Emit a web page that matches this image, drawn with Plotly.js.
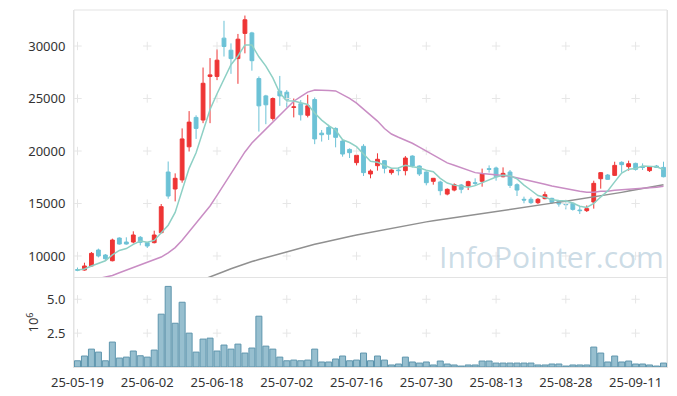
<!DOCTYPE html>
<html><head><meta charset="utf-8">
<script src="https://cdn.plot.ly/plotly-3.0.1.min.js"></script>
<style>html,body{margin:0;padding:0;background:#fff}#chart{width:677px;height:396px}</style>
</head><body><div id="chart"></div>
<script>
const dates = ['25-05-19','25-05-20','25-05-21','25-05-22','25-05-23','25-05-26','25-05-27','25-05-28','25-05-29','25-05-30',
 '25-06-02','25-06-04','25-06-05','25-06-09','25-06-10','25-06-11','25-06-12','25-06-13','25-06-16','25-06-17',
 '25-06-18','25-06-19','25-06-20','25-06-23','25-06-24','25-06-25','25-06-26','25-06-27','25-06-30','25-07-01',
 '25-07-02','25-07-03','25-07-04','25-07-07','25-07-08','25-07-09','25-07-10','25-07-11','25-07-14','25-07-15',
 '25-07-16','25-07-17','25-07-18','25-07-21','25-07-22','25-07-23','25-07-24','25-07-25','25-07-28','25-07-29',
 '25-07-30','25-07-31','25-08-01','25-08-04','25-08-05','25-08-06','25-08-07','25-08-08','25-08-11','25-08-12',
 '25-08-13','25-08-14','25-08-18','25-08-19','25-08-20','25-08-21','25-08-22','25-08-25','25-08-26','25-08-27',
 '25-08-28','25-08-29','25-09-01','25-09-02','25-09-03','25-09-04','25-09-05','25-09-08','25-09-09','25-09-10',
 '25-09-11','25-09-12','25-09-15','25-09-16','25-09-17'];
const openP = [8700,8660,9050,10570,10090,9550,11710,11330,11330,11780,
 11270,11270,12220,18000,16380,17240,20400,23200,22950,27100,
 27100,30750,29600,28800,31200,31250,26900,25250,23100,25700,
 25600,24150,24500,23400,24900,21700,22250,22150,20950,20150,
 18890,20450,17810,18600,19080,17940,18190,18130,19520,18570,
 18000,17110,17050,15900,16280,16760,16670,16980,17110,18320,
 18380,17550,18000,16790,15400,15400,15080,15460,15490,15200,
 14950,15020,14380,14320,15140,17360,17710,17680,18920,18510,
 18820,18510,18130,18570,18440];
const highP = [8900,9360,10380,10700,10190,11650,11780,11780,12350,11900,
 11330,12410,14950,19000,17870,22150,23800,23400,27950,28850,
 29700,32400,30250,31150,32900,31350,27100,25350,25100,27150,
 25800,25000,24850,25350,25100,22000,22500,22250,21100,20250,
 19710,20650,18250,19780,19140,18250,18440,19520,19590,18630,
 18060,17430,17170,16440,16920,16860,17170,17400,18320,18630,
 18510,18440,18190,16920,15650,15590,15520,16130,15550,15330,
 15270,15080,14760,14820,17170,18000,17810,18980,19020,19080,
 18890,18820,18510,18670,18980];
const lowP = [8550,8600,8980,9870,9620,9490,11080,11080,11200,11010,
 10760,11200,12160,15450,15200,16980,19950,21150,22650,22650,
 26750,29000,27350,26400,29300,27650,21850,22550,22900,24300,
 24150,23200,22900,23200,20650,20900,21050,20350,19460,19330,
 18630,17620,17400,18130,17870,17750,17680,17680,18440,17620,
 16730,16790,15780,15780,16160,15970,16280,16670,16600,17940,
 17170,17490,16480,15710,15020,14950,14950,15400,14950,14700,
 14440,14320,14000,14190,14510,16410,17240,17620,17940,18130,
 18130,18190,18000,18380,17490];
const closeP = [8650,9050,10250,10000,9740,11520,11140,11140,12000,11300,
 10950,12000,14700,15710,17400,21150,22750,22150,26450,27250,
 28650,29950,28800,30650,32500,28600,24300,24400,25000,25250,
 24900,24200,23450,24300,21150,21550,21600,21300,19710,19840,
 19590,17940,18090,19210,18350,18190,18130,19330,18570,17810,
 16980,17400,16220,16350,16790,16350,17080,16920,17810,18250,
 17550,17870,16730,16280,15330,15080,15400,15840,15110,14950,
 14890,14440,14320,14510,16920,17940,17300,18630,18700,18790,
 18250,18440,18510,18440,17550];
const ma5 = [8660,8760,9050,9300,9540,10110,10530,10710,11110,11420,
 11310,11480,12190,12930,14150,16200,18350,19830,21980,23950,
 25450,26880,28220,29050,30100,30090,28970,28080,26960,25520,
 24780,24760,24580,24430,23610,22940,22420,21990,21070,20810,
 20410,19680,19030,18930,18630,18360,18390,18640,18510,18410,
 18160,18020,17400,16950,16750,16620,16560,16700,16990,17280,
 17520,17680,17640,17340,16750,16260,15760,15590,15350,15280,
 15240,15050,14740,14620,15020,15620,16200,17060,17900,18270,
 18340,18560,18540,18490,18240];
const ma20 = [7400,7550,7700,7850,7950,8150,8400,8650,8900,9150,
 9350,9600,9900,10300,10800,11500,12300,13100,13900,14760,
 15770,16810,17740,18770,19910,20760,21420,22080,22730,23430,
 24130,24740,25180,25610,25800,25810,25760,25720,25380,25010,
 24560,23960,23420,22850,22140,21620,21310,21060,20740,20360,
 19970,19630,19260,18870,18650,18390,18160,17940,17850,17770,
 17670,17660,17590,17450,17300,17140,17010,16830,16660,16520,
 16410,16260,16170,16080,16080,16160,16170,16260,16300,16330,
 16360,16390,16480,16540,16650];
const ma60 = [null,null,null,null,null,null,null,null,null,null,
 null,null,null,null,null,null,null,7500,7740,8000,
 8260,8520,8780,9030,9280,9470,9660,9850,10040,10230,
 10420,10600,10800,10960,11110,11270,11430,11590,11730,11860,
 11990,12120,12260,12390,12510,12640,12760,12890,13020,13150,
 13250,13350,13450,13560,13660,13760,13860,13960,14060,14160,
 14260,14360,14460,14560,14660,14770,14900,14970,15050,15130,
 15210,15310,15400,15500,15600,15700,15820,15940,16060,16180,
 16300,16420,16540,16660,16790];
const volume = [0.46,0.81,1.32,1.10,0.46,1.84,0.66,0.73,1.18,0.83,
 0.73,1.25,3.90,5.95,3.23,4.78,2.50,1.10,2.06,2.13,
 1.18,1.62,1.32,1.69,1.03,1.40,3.75,1.54,1.32,0.73,
 0.46,0.51,0.46,0.51,1.32,0.37,0.37,0.59,0.81,0.46,
 0.51,1.03,0.46,0.81,0.51,0.15,0.22,0.73,0.37,0.29,
 0.37,0.15,0.44,0.22,0.15,0.07,0.15,0.15,0.44,0.44,
 0.29,0.29,0.29,0.29,0.29,0.29,0.15,0.15,0.22,0.22,
 0.07,0.15,0.15,0.15,1.47,1.03,0.37,0.81,0.37,0.44,
 0.22,0.22,0.15,0.07,0.29];
const tickLabels = ['25-05-19','25-06-02','25-06-18','25-07-02','25-07-16','25-07-30','25-08-13','25-08-28','25-09-11'];
const priceTicks = [10000,15000,20000,25000,30000];
const volTicks = [2.5,5.0];
const volTickText = ['2.5','5.0'];

// grid cross marks at tick intersections
const cx1=[],cy1=[],cx2=[],cy2=[];
tickLabels.forEach(t=>{priceTicks.forEach(v=>{cx1.push(t);cy1.push(v);});volTicks.forEach(v=>{cx2.push(t);cy2.push(v);});});
const crossMarker = {symbol:'cross-thin',size:6,line:{color:'#e6e6e6',width:1},color:'#e6e6e6'};

const traces = [
 {type:'bar',x:dates,y:volume,xaxis:'x',yaxis:'y2',marker:{color:'rgba(140,184,202,0.9)',line:{color:'#5e95ad',width:1}}},
 {type:'scatter',mode:'markers',x:cx1,y:cy1,xaxis:'x',yaxis:'y',marker:crossMarker,hoverinfo:'skip'},
 {type:'scatter',mode:'markers',x:cx2,y:cy2,xaxis:'x',yaxis:'y2',marker:crossMarker,hoverinfo:'skip'},
 {type:'candlestick',x:dates,open:openP,high:highP,low:lowP,close:closeP,xaxis:'x',yaxis:'y',whiskerwidth:0,
  increasing:{line:{color:'#ee3535',width:1},fillcolor:'#ee3535'},
  decreasing:{line:{color:'#6cc2d6',width:1},fillcolor:'#6cc2d6'}},
 {type:'scatter',mode:'lines',x:dates,y:ma60,xaxis:'x',yaxis:'y',line:{color:'#909090',width:1.5},connectgaps:false},
 {type:'scatter',mode:'lines',x:dates,y:ma20,xaxis:'x',yaxis:'y',line:{color:'#c98dc4',width:1.5}},
 {type:'scatter',mode:'lines',x:dates,y:ma5,xaxis:'x',yaxis:'y',line:{color:'#8ed0c5',width:1.5}}
];

const axisLine = '#e3e3e3';
const layout = {
 width:677,height:396,margin:{l:74,r:10,t:10,b:29},
 paper_bgcolor:'#fff',plot_bgcolor:'#fff',showlegend:false,hovermode:false,
 font:{family:'Noto Sans, Open Sans, sans-serif',size:13,color:'#333'},
 bargap:0.14,boxgap:0.22,
 xaxis:{type:'category',categoryorder:'array',categoryarray:dates,range:[-0.5,84.5],anchor:'y2',
  tickvals:tickLabels,ticktext:tickLabels,tickangle:0,
  showgrid:false,zeroline:false,showline:true,linecolor:axisLine,mirror:true,
  ticks:'outside',ticklen:3,tickcolor:'rgba(0,0,0,0)',rangeslider:{visible:false}},
 yaxis:{domain:[0.2493,1],range:[7904,33429],tickvals:priceTicks,tickformat:'d',
  showgrid:false,zeroline:false,showline:true,linecolor:axisLine,mirror:true,
  ticks:'outside',ticklen:5,tickcolor:'rgba(0,0,0,0)'},
 yaxis2:{domain:[0,0.2493],range:[0,6.57],tickvals:volTicks,ticktext:volTickText,
  showgrid:false,zeroline:false,showline:true,linecolor:axisLine,mirror:true,
  ticks:'outside',ticklen:5,tickcolor:'rgba(0,0,0,0)',
  title:{text:'10<sup>6</sup>',font:{size:13,color:'#333'}}},
 shapes:[{type:'rect',xref:'paper',yref:'paper',x0:0,x1:1,y0:0,y1:1,line:{color:axisLine,width:1},layer:'below'}],
 annotations:[{text:'InfoPointer.com',xref:'paper',yref:'paper',x:0.806,y:0.31,xanchor:'center',yanchor:'middle',
  showarrow:false,font:{family:'Open Sans, sans-serif',size:30,color:'rgba(160,190,208,0.55)'}}]
};
Plotly.newPlot('chart',traces,layout,{staticPlot:true,displayModeBar:false});
</script></body></html>
